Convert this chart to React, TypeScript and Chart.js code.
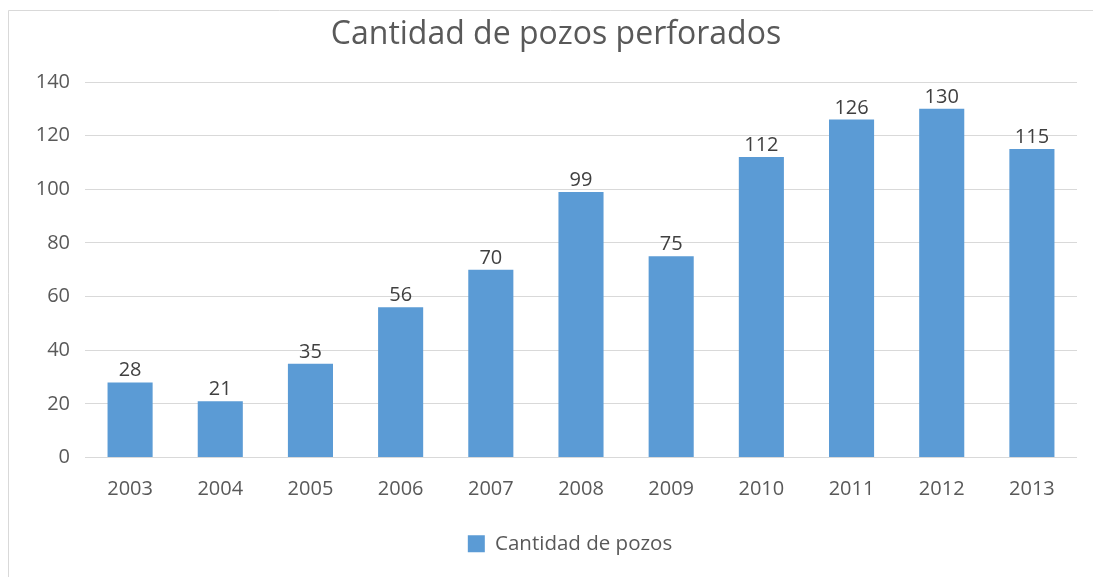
import React, { useEffect, useRef } from "react";
import { Chart, registerables } from "chart.js";

Chart.register(...registerables);

const titleText = "Cantidad de pozos perforados";
const seriesLabel = "Cantidad de pozos";
const categories = ["2003", "2004", "2005", "2006", "2007", "2008", "2009", "2010", "2011", "2012", "2013"];
const values = [28, 21, 35, 56, 70, 99, 75, 112, 126, 130, 115];
const yMin = 0;
const yMax = 140;
const yStep = 20;

const TEXT = "#595959";
const GRID = "#D9D9D9";
const BAR = "#5B9BD5";
const FONT = "'Open Sans', sans-serif";

const framePlugin = {
  id: "frame",
  beforeDraw(chart: any) {
    const { ctx, width, height } = chart;
    ctx.save();
    ctx.fillStyle = "#ffffff";
    ctx.fillRect(0, 0, width, height);
    ctx.strokeStyle = GRID;
    ctx.lineWidth = 1;
    ctx.beginPath();
    ctx.moveTo(8.5, height);
    ctx.lineTo(8.5, 10.5);
    ctx.lineTo(width, 10.5);
    ctx.stroke();
    ctx.restore();
  },
};

const shiftPlugin = {
  id: "shift",
  afterLayout(chart: any) {
    if (chart.titleBlock) {
      chart.titleBlock.left += 17.5;
      chart.titleBlock.right += 17.5;
    }
    if (chart.legend) {
      chart.legend.left += 31.5;
      chart.legend.right += 31.5;
    }
  },
};

const labelPlugin = {
  id: "barLabels",
  afterDatasetsDraw(chart: any) {
    const { ctx } = chart;
    const meta = chart.getDatasetMeta(0);
    ctx.save();
    ctx.fillStyle = "#404040";
    ctx.font = `20px ${FONT}`;
    ctx.textAlign = "center";
    ctx.textBaseline = "alphabetic";
    meta.data.forEach((bar: any, i: number) => {
      ctx.fillText(String(values[i]), bar.x, bar.y - 6);
    });
    ctx.restore();
  },
};

export default function App() {
  const ref = useRef<HTMLCanvasElement | null>(null);

  useEffect(() => {
    if (!ref.current) return;
    Chart.defaults.font.family = FONT;
    const chart = new Chart(ref.current, {
      type: "bar",
      data: {
        labels: categories,
        datasets: [
          {
            label: seriesLabel,
            data: values,
            backgroundColor: BAR,
            borderWidth: 0,
            categoryPercentage: 1,
            barPercentage: 0.5,
          },
        ],
      },
      options: {
        animation: false,
        responsive: true,
        maintainAspectRatio: false,
        layout: { padding: { left: 0, right: 16, top: 0, bottom: 13 } },
        plugins: {
          title: {
            display: true,
            text: titleText,
            color: TEXT,
            font: { size: 32, weight: "normal", family: FONT },
            padding: { top: 16, bottom: 27.6 },
          },
          legend: {
            display: true,
            position: "bottom",
            labels: {
              color: TEXT,
              font: { size: 20.5, family: FONT },
              boxWidth: 17,
              boxHeight: 17,
              padding: 10,
            },
          },
          tooltip: { enabled: false },
        },
        scales: {
          x: {
            grid: { display: false },
            border: { display: false },
            ticks: { color: TEXT, font: { size: 20 }, padding: 12, maxRotation: 0 },
            afterFit(scale: any) {
              scale.height = 66;
            },
          },
          y: {
            min: yMin,
            max: yMax,
            grid: { color: GRID, lineWidth: 1, drawTicks: false },
            border: { display: false },
            ticks: { color: TEXT, font: { size: 20 }, stepSize: yStep, padding: 15 },
            afterFit(scale: any) {
              scale.width = 85;
            },
          },
        },
      },
      plugins: [framePlugin, shiftPlugin, labelPlugin],
    });
    return () => chart.destroy();
  }, []);

  return (
    <div style={{ position: "absolute", left: 0, top: 0, width: 1093, height: 577 }}>
      <canvas ref={ref} />
    </div>
  );
}
